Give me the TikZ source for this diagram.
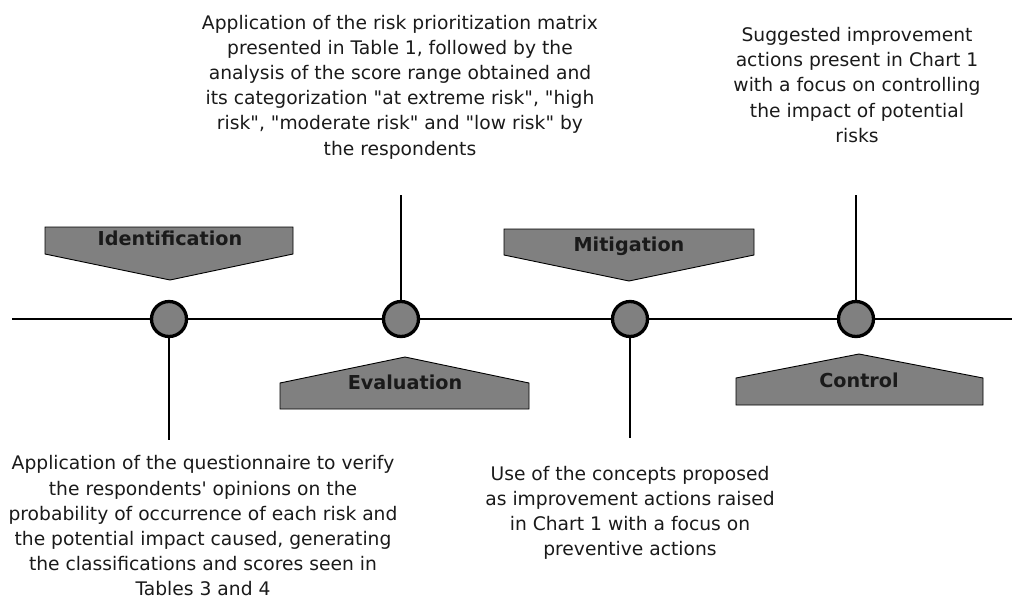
\documentclass[tikz,border=0pt]{standalone}
\usepackage{fontspec}
\setmainfont{DejaVu Sans}[Ligatures=TeXOff]
\usetikzlibrary{positioning}
\definecolor{stagegray}{HTML}{808080}
\definecolor{inkgray}{HTML}{1A1A1A}

\begin{document}
\begin{tikzpicture}[x=1pt,y=-1pt,
  stage/.style={circle,draw,line width=3.3pt,fill=stagegray,minimum size=35pt,inner sep=0pt},
  tag/.style={anchor=base,inner sep=0pt,font=\fontsize{19.2}{22}\selectfont\bfseries,text=inkgray},
  banner/.style={draw=black,line width=0.9pt,fill=stagegray},
  note/.style={align=center,inner sep=0pt,font=\fontsize{18.7}{25.2}\selectfont,text=inkgray},
  axis/.style={line width=1.6pt}]
\useasboundingbox (0,0) rectangle (1012,606);

% timeline
\coordinate (lineL) at (12,319);
\coordinate (lineR) at (1012,319);
\node[stage] (ident) at (169,319) {};
\node[stage] (eval) at (401,319) {};
\node[stage] (mitig) at (630,319) {};
\node[stage] (ctrl) at (856,319) {};
\draw[axis] (lineL) -- (ident);
\draw[axis] (ident) -- (eval);
\draw[axis] (eval) -- (mitig);
\draw[axis] (mitig) -- (ctrl);
\draw[axis] (ctrl) -- (lineR);

% stems
\coordinate (identEnd) at (169,440);
\coordinate (evalEnd) at (401,195);
\coordinate (mitigEnd) at (630,438);
\coordinate (ctrlEnd) at (856,195);
\draw[axis] (ident) -- (identEnd);
\draw[axis] (eval) -- (evalEnd);
\draw[axis] (mitig) -- (mitigEnd);
\draw[axis] (ctrl) -- (ctrlEnd);

% banners
\draw[banner] (45,227) -- (293,227) -- (293,254) -- (170,280) -- (45,254) -- cycle;
\node[tag] (identTag) at (170,245) {Identification};
\draw[banner] (280,409) -- (529,409) -- (529,383) -- (405,357) -- (280,383) -- cycle;
\node[tag] (evalTag) at (405,389) {Evaluation};
\draw[banner] (504,229) -- (754,229) -- (754,255) -- (629,281) -- (504,255) -- cycle;
\node[tag] (mitigTag) at (629,251) {Mitigation};
\draw[banner] (736,405) -- (983,405) -- (983,378) -- (859,354) -- (736,378) -- cycle;
\node[tag] (ctrlTag) at (859,387) {Control};

% descriptions
\node[note] (identNote) at (203,526) {Application of the questionnaire to verify\\
  the respondents' opinions on the\\
  probability of occurrence of each risk and\\
  the potential impact caused, generating\\
  the classifications and scores seen in\\
  Tables 3 and 4};
\node[note] (evalNote) at (400,87) {Application of the risk prioritization matrix\\
  presented in Table 1, followed by the\\
  analysis of the score range obtained and\\
  its categorization "at extreme risk", "high\\
  risk", "moderate risk" and "low risk" by\\
  the respondents};
\node[note] (mitigNote) at (630,513) {Use of the concepts proposed\\
  as improvement actions raised\\
  in Chart 1 with a focus on\\
  preventive actions};
\node[note] (ctrlNote) at (857,85) {Suggested improvement\\
  actions present in Chart 1\\
  with a focus on controlling\\
  the impact of potential\\
  risks};
\end{tikzpicture}
\end{document}
